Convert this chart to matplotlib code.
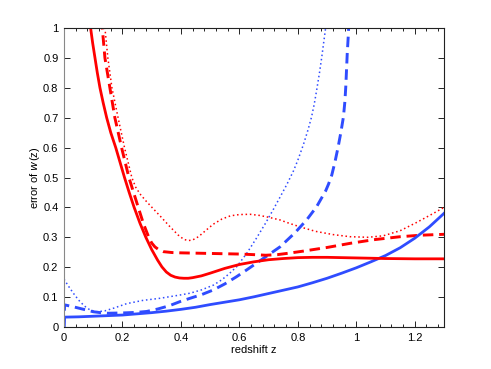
import numpy as np
import matplotlib
matplotlib.use("Agg")
import matplotlib.pyplot as plt
from matplotlib.ticker import MultipleLocator

# ---- data ----
red_solid_z = [0.085, 0.091, 0.098, 0.106, 0.114, 0.123, 0.134, 0.146, 0.160, 0.177, 0.192, 0.207,
               0.223, 0.240, 0.260, 0.280, 0.300, 0.320, 0.335, 0.350, 0.365, 0.380, 0.395, 0.410,
               0.425, 0.440, 0.470, 0.500, 0.550, 0.600, 0.650, 0.700, 0.750, 0.800, 0.850, 0.900,
               0.950, 1.000, 1.100, 1.200, 1.300]
red_solid_w = [1.03, 1.00, 0.950, 0.900, 0.850, 0.800, 0.750, 0.700, 0.650, 0.600, 0.550, 0.500,
               0.450, 0.400, 0.347, 0.300, 0.259, 0.224, 0.201, 0.184, 0.173, 0.167, 0.164, 0.163,
               0.163, 0.165, 0.171, 0.180, 0.196, 0.209, 0.218, 0.225, 0.229, 0.232, 0.233, 0.233,
               0.232, 0.231, 0.229, 0.228, 0.228]

red_dash_z = [0.127, 0.131, 0.140, 0.157, 0.174, 0.197, 0.222, 0.254, 0.272, 0.290, 0.300, 0.311,
              0.325, 0.340, 0.370, 0.400, 0.500, 0.600, 0.650, 0.690, 0.730, 0.770, 0.820, 0.900,
              0.980, 1.060, 1.150, 1.220, 1.300]
red_dash_w = [1.03, 1.00, 0.900, 0.800, 0.700, 0.600, 0.500, 0.400, 0.345, 0.300, 0.281, 0.268,
              0.258, 0.252, 0.249, 0.248, 0.246, 0.244, 0.242, 0.240, 0.242, 0.247, 0.254, 0.266,
              0.280, 0.292, 0.302, 0.307, 0.310]

red_dot_z = [0.137, 0.140, 0.150, 0.164, 0.185, 0.207, 0.232, 0.245, 0.260, 0.280, 0.300, 0.330,
             0.360, 0.390, 0.410, 0.425, 0.440, 0.460, 0.490, 0.511, 0.540, 0.570, 0.600, 0.636,
             0.670, 0.700, 0.739, 0.770, 0.807, 0.860, 0.921, 0.978, 1.040, 1.092, 1.150, 1.207,
             1.260, 1.300]
red_dot_w = [1.03, 1.00, 0.900, 0.800, 0.700, 0.600, 0.500, 0.468, 0.445, 0.422, 0.401, 0.370,
             0.338, 0.308, 0.293, 0.289, 0.291, 0.302, 0.327, 0.344, 0.361, 0.372, 0.376, 0.377,
             0.373, 0.367, 0.358, 0.347, 0.335, 0.320, 0.309, 0.302, 0.300, 0.305, 0.322, 0.350,
             0.378, 0.400]

blue_solid_z = [0.0, 0.002, 0.05, 0.10, 0.15, 0.20, 0.25, 0.30, 0.35, 0.40, 0.45, 0.50, 0.55,
                0.60, 0.65, 0.70, 0.75, 0.80, 0.85, 0.90, 0.95, 1.00, 1.05, 1.10, 1.15, 1.20,
                1.25, 1.30]
blue_solid_w = [0.0, 0.033, 0.034, 0.036, 0.038, 0.040, 0.044, 0.048, 0.053, 0.059, 0.066, 0.075,
                0.083, 0.091, 0.101, 0.112, 0.123, 0.134, 0.148, 0.163, 0.180, 0.198, 0.218,
                0.239, 0.265, 0.297, 0.335, 0.380]

blue_dash_z = [0.0, 0.002, 0.030, 0.055, 0.080, 0.100, 0.125, 0.150, 0.200, 0.250, 0.283, 0.320,
               0.360, 0.397, 0.431, 0.470, 0.511, 0.550, 0.590, 0.625, 0.680, 0.739, 0.790,
               0.830, 0.864, 0.895, 0.905, 0.916, 0.927, 0.938, 0.947, 0.956, 0.961, 0.964,
               0.969, 0.973, 0.975]
blue_dash_w = [0.0, 0.074, 0.068, 0.062, 0.056, 0.051, 0.048, 0.046, 0.047, 0.049, 0.052, 0.060,
               0.071, 0.085, 0.096, 0.108, 0.124, 0.144, 0.168, 0.191, 0.228, 0.268, 0.315,
               0.358, 0.402, 0.455, 0.478, 0.508, 0.552, 0.603, 0.650, 0.703, 0.755, 0.804,
               0.915, 0.982, 1.030]

blue_dot_z = [0.0, 0.015, 0.032, 0.050, 0.070, 0.089, 0.112, 0.140, 0.170, 0.214, 0.270, 0.328,
              0.397, 0.431, 0.470, 0.511, 0.540, 0.565, 0.591, 0.625, 0.659, 0.690, 0.716,
              0.740, 0.762, 0.785, 0.800, 0.819, 0.835, 0.847, 0.856, 0.864, 0.874, 0.882,
              0.894, 0.900]
blue_dot_w = [0.160, 0.137, 0.113, 0.090, 0.070, 0.057, 0.051, 0.054, 0.063, 0.078, 0.089, 0.096,
              0.107, 0.113, 0.124, 0.140, 0.158, 0.178, 0.202, 0.246, 0.298, 0.348, 0.393,
              0.436, 0.476, 0.522, 0.558, 0.610, 0.660, 0.703, 0.745, 0.790, 0.850, 0.904,
              0.993, 1.030]

xticks = [0, 0.2, 0.4, 0.6, 0.8, 1, 1.2]
xtick_labels = ["0", "0.2", "0.4", "0.6", "0.8", "1", "1.2"]
yticks = [0, 0.1, 0.2, 0.3, 0.4, 0.5, 0.6, 0.7, 0.8, 0.9, 1]
ytick_labels = ["0", "0.1", "0.2", "0.3", "0.4", "0.5", "0.6", "0.7", "0.8", "0.9", "1"]

RED = "#ff0000"
BLUE = "#2f4cff"

plt.rcParams["font.family"] = ["Liberation Sans", "DejaVu Sans"]

fig = plt.figure(figsize=(4.91, 3.69), dpi=100)
ax = fig.add_axes([64 / 491, 42 / 369, 380 / 491, 299 / 369])

dot_style = dict(lw=1.1, linestyle=(0, (1, 1.8)), dash_capstyle="butt")
dash_style = dict(lw=2.1, linestyle=(0, (3.6, 2.0)), dash_capstyle="butt")
solid_style = dict(lw=2.0, solid_joinstyle="round")

ax.plot(blue_dot_z, blue_dot_w, color=BLUE, **dot_style)
ax.plot(red_dot_z, red_dot_w, color=RED, **dot_style)
ax.plot(blue_dash_z, blue_dash_w, color=BLUE, **dash_style)
ax.plot(red_dash_z, red_dash_w, color=RED, **dash_style)
ax.plot(blue_solid_z, blue_solid_w, color=BLUE, **solid_style)
ax.plot(red_solid_z, red_solid_w, color=RED, **solid_style)

ax.set_xlim(0, 1.3)
ax.set_ylim(0, 1)
ax.set_xticks(xticks)
ax.set_xticklabels(xtick_labels)
ax.set_yticks(yticks)
ax.set_yticklabels(ytick_labels)
ax.xaxis.set_minor_locator(MultipleLocator(0.04))
ax.tick_params(which="both", direction="in", top=True, right=True, labelsize=8, pad=4)
ax.tick_params(which="major", length=4, width=0.6)
ax.tick_params(which="minor", length=2, width=0.6)
for s in ax.spines.values():
    s.set_linewidth(0.8)
    s.set_color("#222222")
ax.spines["left"].set_color("#888888")

ax.set_xlabel("redshift z", fontsize=8, labelpad=2)
ax.set_ylabel("error of $\\it{w}$(z)", fontsize=8, labelpad=1)

fig.savefig("out.png", dpi=100)
